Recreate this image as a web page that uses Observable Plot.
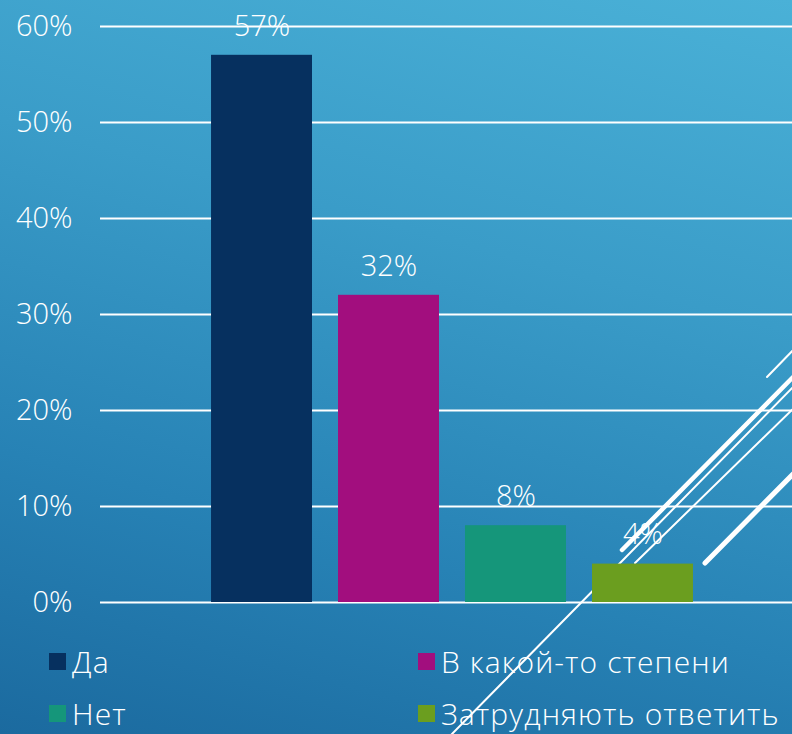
<!DOCTYPE html>
<html>
<head>
<meta charset="utf-8">
<script src="https://cdn.jsdelivr.net/npm/d3@7"></script>
<script src="https://cdn.jsdelivr.net/npm/@observablehq/plot@0.6"></script>
<style>
  html, body { margin: 0; padding: 0; }
  body {
    width: 792px; height: 734px; overflow: hidden; position: relative;
    background: linear-gradient(195deg, #4ab1d7 0%, #3a9cc8 35%, #2782b5 70%, #1b6a9f 100%);
    font-family: "Open Sans", "Noto Sans", "DejaVu Sans", sans-serif;
    color: white;
  }
  #decor { position: absolute; left: 0; top: 0; }
  #chart { position: absolute; left: 0; top: 0; }
  #legend {
    position: absolute; left: 49px; top: 635px;
    display: grid; grid-template-columns: 369px 369px; grid-auto-rows: 52px;
    font-size: 30px; font-weight: 300; letter-spacing: 1.1px;
  }
  .item { display: flex; align-items: center; white-space: nowrap; }
  .sw { width: 17px; height: 17px; margin-right: 6px; flex: none; }
</style>
</head>
<body>
<!-- theme decoration (background swooshes), not data -->
<svg id="decor" width="792" height="734" viewBox="0 0 792 734">
  <g stroke="white" stroke-linecap="round" fill="none">
    <line x1="767" y1="377" x2="800" y2="343" stroke-width="2"/>
    <line x1="622" y1="550" x2="800" y2="370" stroke-width="4.5"/>
    <line x1="450" y1="736" x2="800" y2="380" stroke-width="2"/>
    <line x1="635" y1="563" x2="800" y2="402" stroke-width="2"/>
    <line x1="705" y1="563" x2="800" y2="467" stroke-width="5"/>
  </g>
</svg>
<div id="chart"></div>
<div id="legend"></div>
<script>
const categories = ["Да", "В какой-то степени", "Нет", "Затрудняють ответить"];
const values = [57, 32, 8, 4];
const colors = ["#06305f", "#a20e7e", "#15967a", "#6b9e1f"];
const yTicks = [0, 10, 20, 30, 40, 50, 60];

const data = categories.map((c, i) => ({category: c, value: values[i]}));

const chart = Plot.plot({
  width: 792,
  height: 610,
  marginLeft: 100,
  marginRight: 0,
  marginTop: 26,
  marginBottom: 8,
  style: {
    background: "transparent",
    color: "white",
    fontFamily: "'Open Sans', 'Noto Sans', sans-serif",
    fontSize: "29px",
    fontWeight: 300,
    overflow: "visible"
  },
  x: {domain: categories, range: [185, 719], padding: 0.205, round: false, axis: null},
  y: {domain: [0, 60]},
  color: {domain: categories, range: colors},
  marks: [
    Plot.ruleY(yTicks, {stroke: "white", strokeWidth: 2}),
    Plot.barY(data, {x: "category", y: "value", fill: "category"}),
    Plot.axisY({ticks: yTicks, tickSize: 0, tickPadding: 28, tickFormat: d => d + "%", label: null, fontSize: 29, fill: "white"}),
    Plot.text(data, {x: "category", y: "value", text: d => d.value + "%", dy: -29, lineAnchor: "middle", fill: "white", fontSize: 29})
  ]
});
document.getElementById("chart").appendChild(chart);

const legend = document.getElementById("legend");
categories.forEach((c, i) => {
  const item = document.createElement("div");
  item.className = "item";
  const sw = document.createElement("span");
  sw.className = "sw";
  sw.style.background = colors[i];
  const t = document.createElement("span");
  t.textContent = c;
  item.appendChild(sw);
  item.appendChild(t);
  legend.appendChild(item);
});
</script>
</body>
</html>
